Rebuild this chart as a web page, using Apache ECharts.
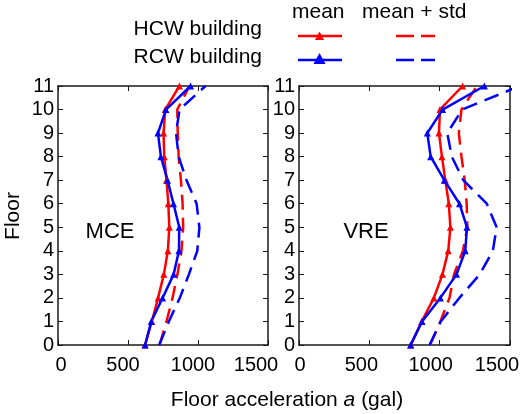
<!DOCTYPE html>
<html>
  <head>
    <meta charset="utf-8">
    <title>floor acceleration</title>
    <style type="text/css">
      html,body{margin:0;padding:0;background:#fff;}
      #chart1{width:520px;height:414px;}
    </style>
    <script type="text/javascript" src="https://cdn.jsdelivr.net/npm/echarts@6/dist/echarts.min.js"></script>
  </head>
  <body>
    <div id="chart1"></div>
  </body>
  <script type="text/javascript">
    // floors, y axis
    var floors = [0, 1, 2, 3, 4, 5, 6, 7, 8, 9, 10, 11];
    var xTicks = [0, 500, 1000, 1500];

    // MCE panel (gal), floor 0 -> 11
    var mceHcwMean = [622, 670, 715, 756, 785, 795, 788, 775, 759, 754, 766, 867];
    var mceRcwMean = [622, 666, 747, 826, 864, 866, 825, 782, 735, 714, 771, 947];
    var mceHcwStd  = [725, 775, 818, 853, 882, 894, 890, 878, 862, 855, 852, 940];
    var mceRcwStd  = [723, 792, 870, 935, 995, 1010, 990, 918, 862, 843, 868, 1054];

    // VRE panel (gal)
    var vreHcwMean = [794, 872, 959, 1020, 1061, 1076, 1065, 1040, 1016, 995, 1002, 1163];
    var vreRcwMean = [794, 875, 1005, 1120, 1182, 1194, 1141, 1033, 936, 912, 1021, 1318];
    var vreHcwStd  = [932, 1005, 1070, 1102, 1165, 1197, 1192, 1178, 1155, 1136, 1155, 1265];
    var vreRcwStd  = [928, 1008, 1140, 1285, 1378, 1405, 1335, 1168, 1086, 1054, 1160, 1570];

    var RED = '#ff0000', BLUE = '#0000ff';
    var FONT = 'Liberation Sans, Arial, sans-serif';
    var AXC = '#1a1a1a';

    // label nudges (left pad, right pad) so the tick text sits like the original
    var padL = {0: [6, 0], 500: [0, 10], 1000: [0, 10], 1500: [0, 24]};
    var padR = {0: [2, 0], 500: [0, 16], 1000: [0, 18], 1500: [0, 26]};

    function pairs(v){
      return floors.map(function(f, i){ return [v[i], f]; });
    }

    function xAx(grid, pos, labels){
      var pad = grid === 0 ? padL : padR;
      var rich = {};
      xTicks.forEach(function(t){
        rich['t' + t] = {fontSize: 20, fontFamily: FONT, color: '#000', padding: [0, pad[t][1], 0, pad[t][0]]};
      });
      return {
        type: 'value', gridIndex: grid, position: pos,
        min: xTicks[0], max: xTicks[xTicks.length - 1], interval: 500,
        axisLine: {show: true, onZero: false, lineStyle: {color: AXC, width: 1.5}},
        axisTick: {show: true, inside: true, length: 5, lineStyle: {color: AXC, width: 1}},
        axisLabel: {show: labels, margin: 10, color: '#000', fontSize: 20, fontFamily: FONT,
                    hideOverlap: false,
                    formatter: function(v){ return '{t' + v + '|' + v + '}'; }, rich: rich},
        splitLine: {show: false}
      };
    }
    function yAx(grid, pos, labels){
      return {
        type: 'value', gridIndex: grid, position: pos,
        min: 0, max: 11, interval: 1,
        axisLine: {show: true, onZero: false, lineStyle: {color: AXC, width: 1.5}},
        axisTick: {show: true, inside: true, length: 5, lineStyle: {color: AXC, width: 1}},
        axisLabel: {show: labels, margin: 4, color: '#000', fontSize: 20, fontFamily: FONT},
        splitLine: {show: false}
      };
    }

    function line(name, data, color, dashed, xi, yi){
      return {
        name: name, type: 'line', xAxisIndex: xi, yAxisIndex: yi,
        data: pairs(data), clip: true,
        symbol: dashed ? 'none' : 'triangle', symbolSize: 7,
        itemStyle: {color: color},
        lineStyle: {color: color, width: 2.5, type: dashed ? [15, 8] : 'solid'},
        animation: false, z: dashed ? 2 : 3
      };
    }

    var myChart = echarts.init(document.getElementById('chart1'), null, {renderer: 'canvas'});

    myChart.setOption({
      animation: false,
      textStyle: {fontFamily: FONT},
      grid: [
        {left: 58, top: 86, width: 210, height: 259, containLabel: false, outerBoundsMode: 'none'},
        {left: 299, top: 86, width: 211, height: 259, containLabel: false, outerBoundsMode: 'none'}
      ],
      xAxis: [xAx(0, 'bottom', true), xAx(0, 'top', false), xAx(1, 'bottom', true), xAx(1, 'top', false)],
      yAxis: [yAx(0, 'left', true), yAx(0, 'right', false), yAx(1, 'left', true), yAx(1, 'right', false)],
      series: [
        line('MCE HCW mean+std', mceHcwStd, RED, true, 0, 0),
        line('MCE RCW mean+std', mceRcwStd, BLUE, true, 0, 0),
        line('MCE HCW mean', mceHcwMean, RED, false, 0, 0),
        line('MCE RCW mean', mceRcwMean, BLUE, false, 0, 0),
        line('VRE HCW mean+std', vreHcwStd, RED, true, 2, 2),
        line('VRE RCW mean+std', vreRcwStd, BLUE, true, 2, 2),
        line('VRE HCW mean', vreHcwMean, RED, false, 2, 2),
        line('VRE RCW mean', vreRcwMean, BLUE, false, 2, 2)
      ],
      graphic: [
        // legend headers
        {type: 'text', left: 292, top: 2, style: {text: 'mean', font: '21px ' + FONT, fill: '#000'}},
        {type: 'text', left: 362, top: 2, style: {text: 'mean + std', font: '21px ' + FONT, fill: '#000'}},
        {type: 'text', right: 258, top: 19, style: {text: 'HCW building', font: '21px ' + FONT, fill: '#000'}},
        {type: 'text', right: 258, top: 47, style: {text: 'RCW building', font: '21px ' + FONT, fill: '#000'}},
        // legend samples
        {type: 'line', shape: {x1: 298, y1: 36, x2: 342, y2: 36}, style: {stroke: RED, lineWidth: 2.5}},
        {type: 'polygon', shape: {points: [[319.5, 31.5], [315, 40], [324, 40]]}, style: {fill: RED}},
        {type: 'line', shape: {x1: 298, y1: 60, x2: 342, y2: 60}, style: {stroke: BLUE, lineWidth: 2.5}},
        {type: 'polygon', shape: {points: [[319.5, 53], [313.5, 64], [325.5, 64]]}, style: {fill: BLUE}},
        {type: 'line', shape: {x1: 396, y1: 36, x2: 435, y2: 36}, style: {stroke: RED, lineWidth: 2.5, lineDash: [18, 7]}},
        {type: 'line', shape: {x1: 396, y1: 60, x2: 435, y2: 60}, style: {stroke: BLUE, lineWidth: 2.5, lineDash: [18, 7]}},
        // panel labels
        {type: 'text', x: 110, y: 232, style: {text: 'MCE', font: '22px ' + FONT, fill: '#000', align: 'center', verticalAlign: 'middle'}},
        {type: 'text', x: 366, y: 232, style: {text: 'VRE', font: '22px ' + FONT, fill: '#000', align: 'center', verticalAlign: 'middle'}},
        // axis titles
        {type: 'text', x: 13, y: 216, rotation: Math.PI / 2,
         style: {text: 'Floor', font: '21px ' + FONT, fill: '#000', align: 'center', verticalAlign: 'middle'}},
        {type: 'text', x: 287, y: 400,
         style: {text: 'Floor acceleration {i|a} (gal)', font: '21px ' + FONT, fill: '#000',
                 align: 'center', verticalAlign: 'middle',
                 rich: {i: {fontStyle: 'italic', fontSize: 21, fontFamily: FONT}}}}
      ]
    });
  </script>
</html>
